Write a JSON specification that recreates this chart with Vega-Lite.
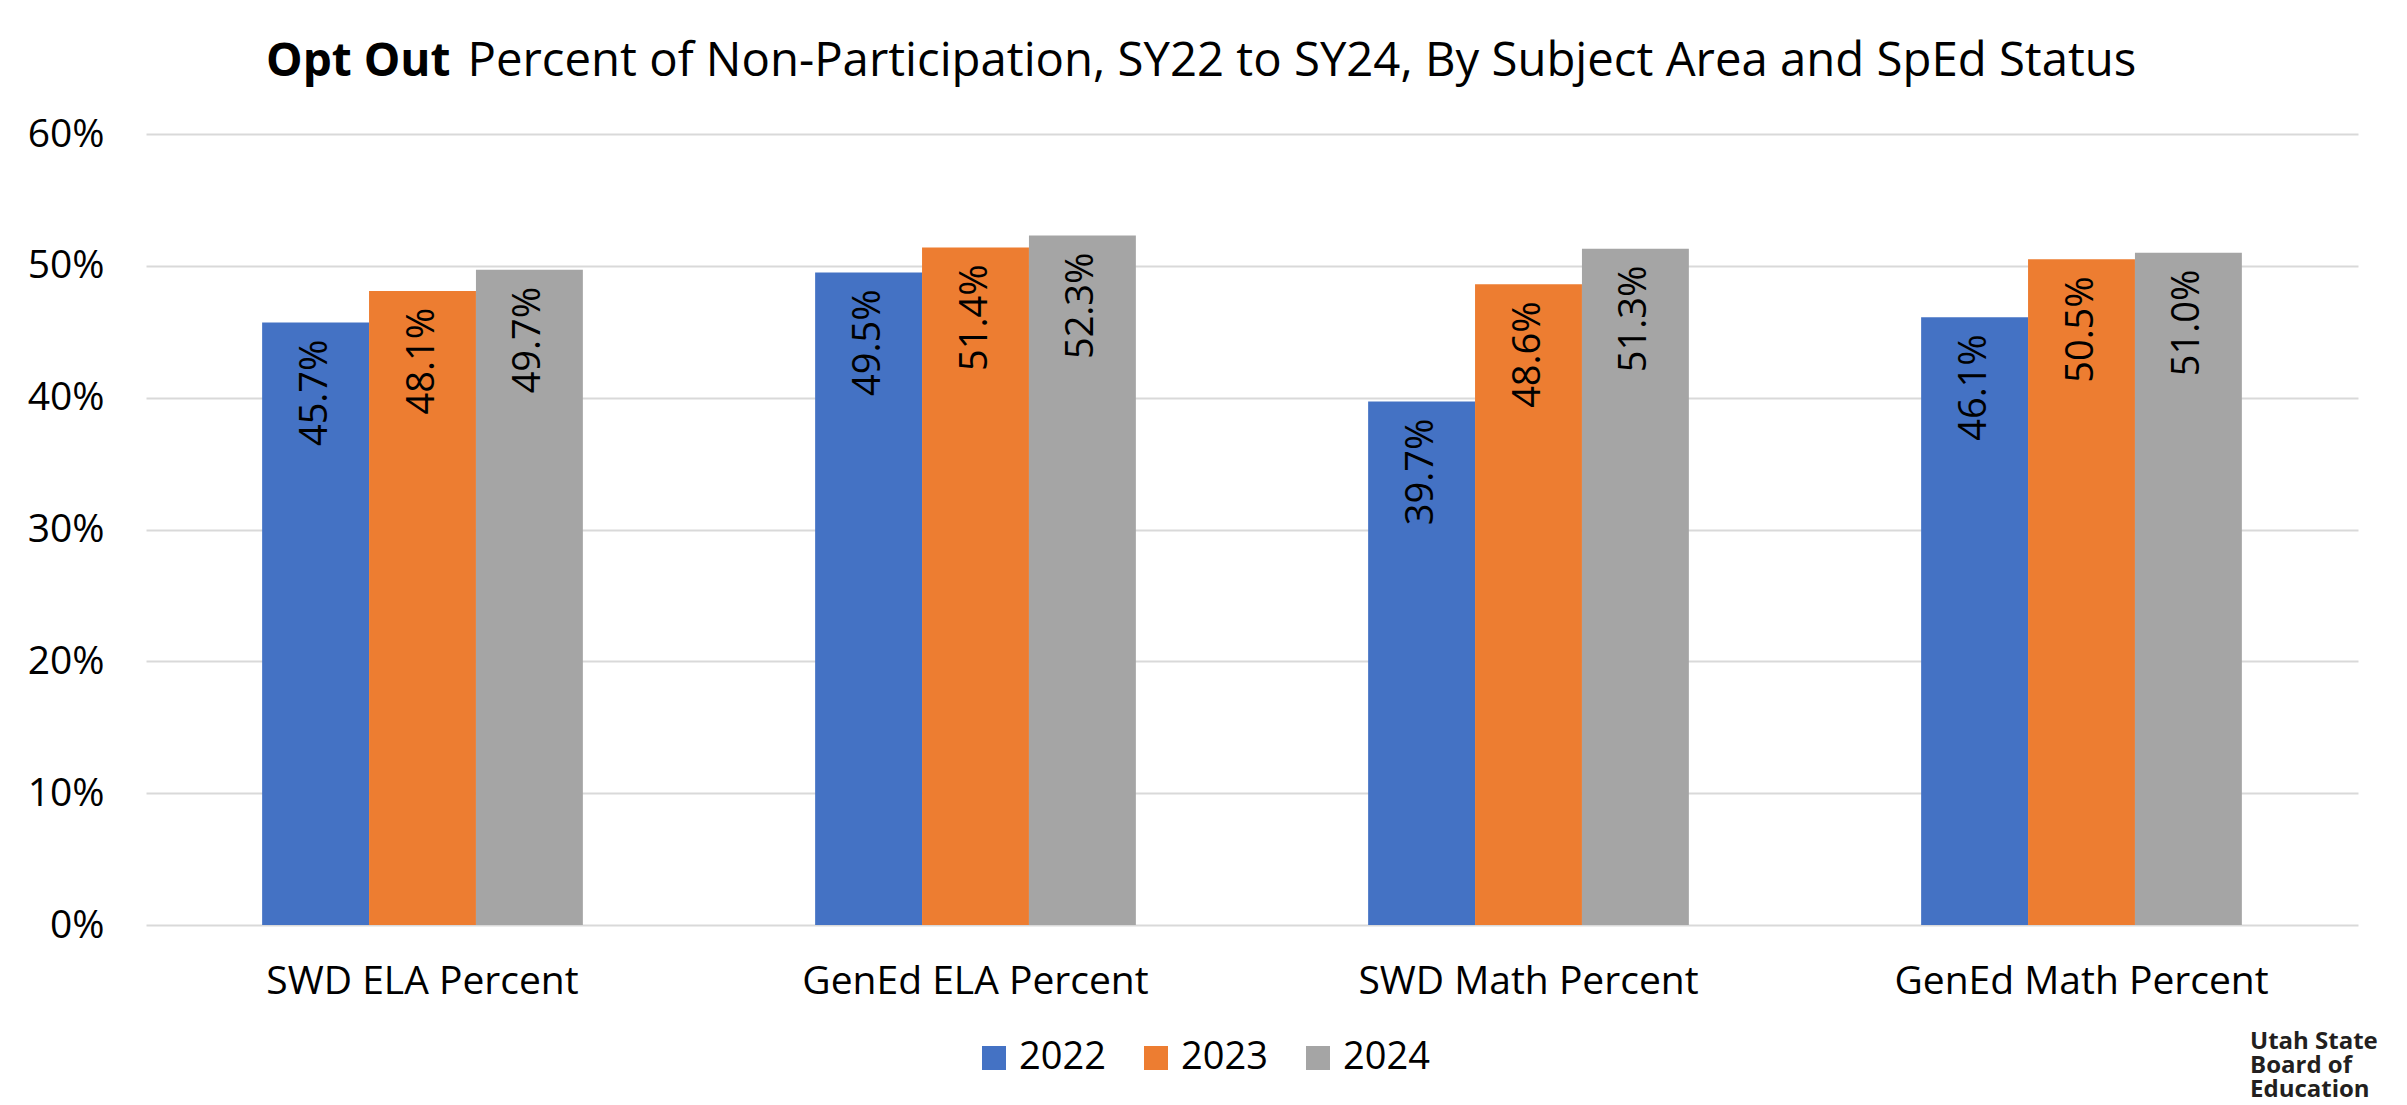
{
  "$schema": "https://vega.github.io/schema/vega-lite/v6.json",
  "width": 2212,
  "height": 791,
  "autosize": "none",
  "padding": {"left": 146, "top": 134, "right": 49, "bottom": 180},
  "background": "white",
  "title": {
    "text": ["Utah State", "Board of", "Education"],
    "orient": "bottom",
    "anchor": "end",
    "align": "left",
    "fontSize": 24,
    "fontWeight": "bold",
    "lineHeight": 24,
    "color": "#231f20",
    "dx": -108,
    "dy": -47,
    "offset": 0
  },
  "data": {
    "values": [
      {"category": "SWD ELA Percent", "year": "2022", "value": 0.457},
      {"category": "SWD ELA Percent", "year": "2023", "value": 0.481},
      {"category": "SWD ELA Percent", "year": "2024", "value": 0.497},
      {"category": "GenEd ELA Percent", "year": "2022", "value": 0.495},
      {"category": "GenEd ELA Percent", "year": "2023", "value": 0.514},
      {"category": "GenEd ELA Percent", "year": "2024", "value": 0.523},
      {"category": "SWD Math Percent", "year": "2022", "value": 0.397},
      {"category": "SWD Math Percent", "year": "2023", "value": 0.486},
      {"category": "SWD Math Percent", "year": "2024", "value": 0.513},
      {"category": "GenEd Math Percent", "year": "2022", "value": 0.461},
      {"category": "GenEd Math Percent", "year": "2023", "value": 0.505},
      {"category": "GenEd Math Percent", "year": "2024", "value": 0.510}
    ]
  },
  "encoding": {
    "x": {
      "field": "category",
      "type": "nominal",
      "sort": ["SWD ELA Percent", "GenEd ELA Percent", "SWD Math Percent", "GenEd Math Percent"],
      "scale": {"paddingInner": 0.42, "paddingOuter": 0.21},
      "axis": {
        "title": "Percent of Non-Participation, SY22 to SY24, By Subject Area and SpEd Status",
        "titleX": 321,
        "titleY": -850,
        "titleAlign": "left",
        "titleAnchor": null,
        "titleBaseline": "alphabetic",
        "titleFontSize": 47.3,
        "titleFontWeight": "normal",
        "titleColor": "#000000",
        "titleFont": "Open Sans",
        "titleLimit": 0,
        "labelAngle": 0,
        "labelFontSize": 39,
        "labelColor": "#000000",
        "labelPadding": 37,
        "labelBaseline": "top",
        "labelLimit": 0,
        "ticks": false,
        "domain": false
      }
    },
    "xOffset": {"field": "year", "type": "nominal"},
    "y": {
      "field": "value",
      "type": "quantitative",
      "scale": {"domain": [0, 0.6], "nice": false},
      "axis": {
        "values": [0, 0.1, 0.2, 0.3, 0.4, 0.5, 0.6],
        "format": ".0%",
        "title": "Opt Out",
        "titleAngle": 0,
        "titleX": 304,
        "titleY": -59,
        "titleAlign": "right",
        "titleBaseline": "alphabetic",
        "titleFontSize": 46,
        "titleFontWeight": "bold",
        "titleColor": "#000000",
        "titleFont": "Open Sans",
        "labelFontSize": 39,
        "labelColor": "#000000",
        "labelPadding": 42,
        "ticks": false,
        "domain": false,
        "grid": true,
        "gridColor": "#D9D9D9",
        "gridWidth": 2
      }
    }
  },
  "layer": [
    {
      "mark": {"type": "bar"},
      "encoding": {
        "color": {
          "field": "year",
          "type": "nominal",
          "scale": {"domain": ["2022", "2023", "2024"], "range": ["#4472C4", "#ED7D31", "#A5A5A5"]},
          "legend": {
            "title": null,
            "orient": "none",
            "direction": "horizontal",
            "columns": 3,
            "legendX": 829,
            "legendY": 905,
            "padding": 0,
            "symbolType": "square",
            "symbolSize": 576,
            "symbolStrokeWidth": 0,
            "symbolOpacity": 1,
            "labelFontSize": 38,
            "labelColor": "#000000",
            "labelOffset": 6,
            "columnPadding": 31
          }
        }
      }
    },
    {
      "mark": {"type": "text", "angle": 270, "align": "right", "baseline": "middle", "dx": -17, "fontSize": 38, "color": "#000000"},
      "encoding": {
        "text": {"field": "value", "type": "quantitative", "format": ".1%"}
      }
    }
  ],
  "config": {"font": "Open Sans", "view": {"stroke": null}}
}
